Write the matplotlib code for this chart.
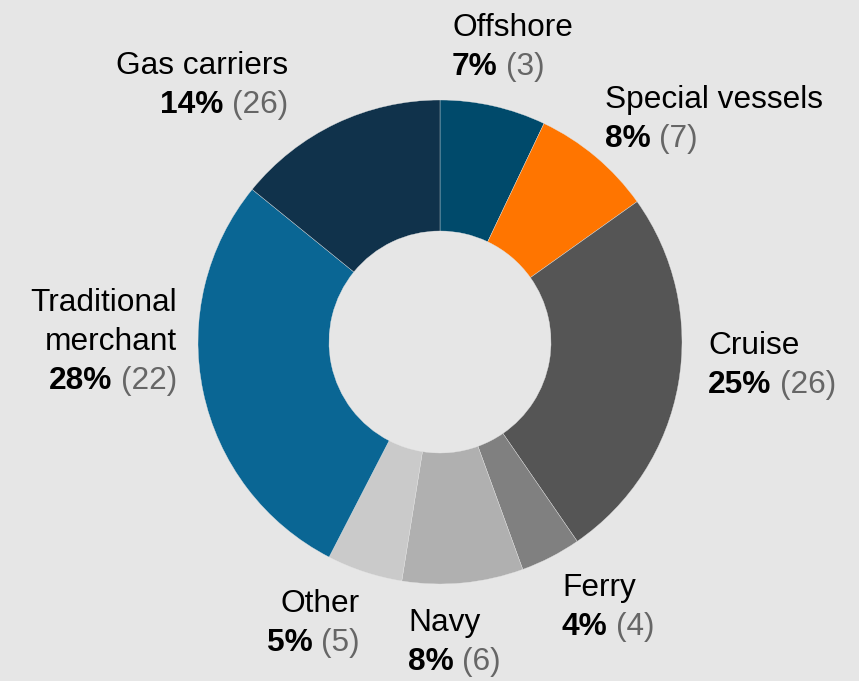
import matplotlib.pyplot as plt

plt.rcParams['font.family'] = ['Liberation Sans', 'DejaVu Sans']

W, H = 859, 681
BG = '#e6e6e6'

segments = ['Offshore', 'Special vessels', 'Cruise', 'Ferry', 'Navy', 'Other',
            'Traditional\nmerchant', 'Gas carriers']
shares = [7, 8, 25, 4, 8, 5, 28, 14]
counts = [3, 7, 26, 4, 6, 5, 22, 26]
colors = ['#004a6b', '#ff7500', '#555555', '#808080', '#b0b0b0', '#cacaca',
          '#0a6694', '#10324b']

# where each label starts: x, baseline of first line (px from top), alignment
label_pos = [(452, 36, 'left'), (605, 108, 'left'), (708, 354, 'left'),
             (562, 596, 'left'), (408, 631, 'left'), (360, 612, 'right'),
             (177, 311, 'right'), (288, 74, 'right')]

fig = plt.figure(figsize=(W / 100, H / 100), dpi=100, facecolor=BG)
ax = fig.add_axes([0, 0, 1, 1])
ax.set_facecolor(BG)

ax.pie(shares, colors=colors, startangle=90, counterclock=False,
       center=(440, H - 342), radius=242,
       wedgeprops=dict(width=131, edgecolor=BG, linewidth=0.25))
ax.set_xlim(0, W)
ax.set_ylim(0, H)
ax.axis('off')

fs = 22.8
lh = 39
for name, s, n, (x, ytop, side) in zip(segments, shares, counts, label_pos):
    y = H - ytop
    lines = name.split('\n')
    for i, line in enumerate(lines):
        ax.text(x, y - i * lh, line, ha=side, va='baseline', fontsize=fs, color='black')
    y2 = y - len(lines) * lh
    if side == 'left':
        pct = ax.text(x, y2, f'{s}%', ha='left', va='baseline', fontsize=fs,
                      fontweight='bold', color='black')
        ax.annotate(f'({n})', xy=(1, 0), xycoords=pct, xytext=(6, 0),
                    textcoords='offset points', ha='left', va='bottom',
                    fontsize=fs, color='#666666')
    else:
        cnt = ax.text(x, y2, f'({n})', ha='right', va='baseline', fontsize=fs,
                      color='#666666')
        ax.annotate(f'{s}%', xy=(0, 0), xycoords=cnt, xytext=(-6, 0),
                    textcoords='offset points', ha='right', va='bottom',
                    fontsize=fs, fontweight='bold', color='black')

fig.savefig('out.png', dpi=100, facecolor=BG)
